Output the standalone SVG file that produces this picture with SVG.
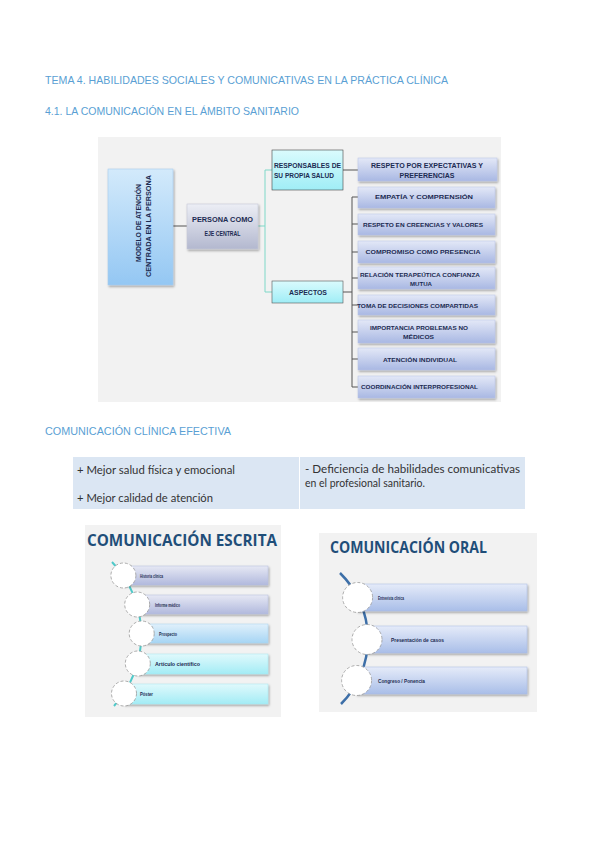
<svg xmlns="http://www.w3.org/2000/svg" width="600" height="848" viewBox="0 0 600 848">
<style>
.hdr{font-family:"Liberation Sans",Arial,sans-serif;font-size:11px;fill:#5a9fd4}
.bx{font-family:"Liberation Sans",Arial,sans-serif;font-weight:bold;fill:#1c2b52}
.t8{font-size:7.5px}
.t6{font-size:6px}
.tbl{font-family:"Lato","Liberation Sans",sans-serif;font-size:11px;fill:#333}
.ttl{font-family:"Open Sans","Liberation Sans",sans-serif;font-weight:bold;fill:#1f4e79}
.sm{font-family:"Liberation Sans",Arial,sans-serif;font-weight:bold;font-size:4.8px;fill:#1c2b52}
.ln{stroke:#555;stroke-width:1;fill:none}
.tl{stroke:#7fd8c8;stroke-width:1;fill:none}
.circ{fill:#fff;stroke:#999;stroke-width:0.8;stroke-dasharray:3 2}
</style>
<defs>
<linearGradient id="gBlue" x1="0" y1="0" x2="0" y2="1"><stop offset="0" stop-color="#d3eafb"/><stop offset="1" stop-color="#94c7f3"/></linearGradient>
<linearGradient id="gGray" x1="0" y1="0" x2="0" y2="1"><stop offset="0" stop-color="#eceef5"/><stop offset="1" stop-color="#b3b8cf"/></linearGradient>
<linearGradient id="gCyan" x1="0" y1="0" x2="0" y2="1"><stop offset="0" stop-color="#dafbfd"/><stop offset="1" stop-color="#9fedf6"/></linearGradient>
<linearGradient id="gLav" x1="0" y1="0" x2="0" y2="1"><stop offset="0" stop-color="#e3e8f7"/><stop offset="1" stop-color="#a9b8e3"/></linearGradient>
<linearGradient id="gLav2" x1="0" y1="0" x2="0" y2="1"><stop offset="0" stop-color="#e6e8f4"/><stop offset="1" stop-color="#b1b9dd"/></linearGradient>
<linearGradient id="gLblue" x1="0" y1="0" x2="0" y2="1"><stop offset="0" stop-color="#e0f0fb"/><stop offset="1" stop-color="#a6d5f4"/></linearGradient>
<linearGradient id="gLcyan" x1="0" y1="0" x2="0" y2="1"><stop offset="0" stop-color="#e0f9fc"/><stop offset="1" stop-color="#a3ecf5"/></linearGradient>
<linearGradient id="gOral" x1="0" y1="0" x2="0" y2="1"><stop offset="0" stop-color="#e5ebf9"/><stop offset="1" stop-color="#a9bee8"/></linearGradient>
<filter id="sh" x="-10%" y="-20%" width="130%" height="160%"><feDropShadow dx="1" dy="1.5" stdDeviation="0.8" flood-color="#000" flood-opacity="0.35"/></filter>
</defs>
<rect width="600" height="848" fill="#fff"/>

<text class="hdr" x="45" y="84" textLength="403" lengthAdjust="spacingAndGlyphs">TEMA 4. HABILIDADES SOCIALES Y COMUNICATIVAS EN LA PRÁCTICA CLÍNICA</text>
<text class="hdr" x="45" y="115" textLength="254" lengthAdjust="spacingAndGlyphs">4.1. LA COMUNICACIÓN EN EL ÁMBITO SANITARIO</text>

<rect x="98" y="137" width="403" height="265" fill="#f2f2f2"/>
<rect x="85" y="525" width="196" height="192" fill="#f2f2f2"/>
<rect x="319" y="533" width="218" height="179" fill="#f2f2f2"/>

<g id="connectors">
<path class="ln" d="M173 226 H187"/>
<path class="tl" d="M258 226 H265 M265 170 V292 M265 170 H272 M265 292 H272"/>
<path class="ln" d="M343 170 H358"/>
<path class="ln" d="M343 292 H352 M352 197 V387 M352 197 H358 M352 224 H358 M352 252 H358 M352 278 H358 M352 305 H358 M352 332 H358 M352 359 H358 M352 387 H358"/>
<path d="M112 562 A105.7 105.7 0 0 1 114 706" fill="none" stroke="#4fc9c9" stroke-width="2"/>
<path d="M340 573 A92 92 0 0 1 341 704" fill="none" stroke="#3d6fa8" stroke-width="2.5"/>
</g>

<g id="modelo">
<rect x="108" y="169" width="65" height="116" fill="url(#gBlue)" stroke="#a9cdef" stroke-width="0.6" filter="url(#sh)"/>
<text class="bx t8" transform="translate(141,223) rotate(-90)" text-anchor="middle" textLength="78" lengthAdjust="spacingAndGlyphs">MODELO DE ATENCIÓN</text>
<text class="bx t8" transform="translate(151,226) rotate(-90)" text-anchor="middle" textLength="102" lengthAdjust="spacingAndGlyphs">CENTRADA EN LA PERSONA</text>
</g>

<g id="persona">
<rect x="187" y="204" width="71" height="45" fill="url(#gGray)" stroke="#c5c8d8" stroke-width="0.6" filter="url(#sh)"/>
<text class="bx t8" x="222.5" y="222" text-anchor="middle" textLength="61" lengthAdjust="spacingAndGlyphs">PERSONA COMO</text>
<text class="bx t8" x="222.5" y="236" text-anchor="middle" textLength="36" lengthAdjust="spacingAndGlyphs">EJE CENTRAL</text>
</g>

<g id="responsables">
<rect x="272" y="150" width="71" height="40" fill="url(#gCyan)" stroke="#444" stroke-width="0.6"/>
<text class="bx t8" x="274" y="168" textLength="67" lengthAdjust="spacingAndGlyphs">RESPONSABLES DE</text>
<text class="bx t8" x="274" y="178" textLength="60" lengthAdjust="spacingAndGlyphs">SU PROPIA SALUD</text>
</g>

<g id="respeto">
<rect x="358" y="158" width="139" height="23" fill="url(#gLav)" stroke="#b9c3e6" stroke-width="0.5" filter="url(#sh)"/>
<text class="bx t8" x="427" y="168" text-anchor="middle" textLength="112" lengthAdjust="spacingAndGlyphs">RESPETO POR EXPECTATIVAS Y</text>
<text class="bx t8" x="427" y="178" text-anchor="middle" textLength="55" lengthAdjust="spacingAndGlyphs">PREFERENCIAS</text>
</g>

<g id="aspectos">
<rect x="272" y="281" width="71" height="22" fill="url(#gCyan)" stroke="#555" stroke-width="0.6"/>
<text class="bx t8" x="308" y="295" text-anchor="middle" textLength="38" lengthAdjust="spacingAndGlyphs">ASPECTOS</text>
</g>

<g id="empatia">
<rect x="358" y="187" width="137" height="21" fill="url(#gLav)" stroke="#b9c3e6" stroke-width="0.5" filter="url(#sh)"/>
<text class="bx t6" x="424" y="199" text-anchor="middle" textLength="98" lengthAdjust="spacingAndGlyphs">EMPATÍA Y COMPRENSIÓN</text>
</g>
<g id="creencias">
<rect x="358" y="214" width="137" height="21" fill="url(#gLav)" stroke="#b9c3e6" stroke-width="0.5" filter="url(#sh)"/>
<text class="bx t6" x="423" y="227" text-anchor="middle" textLength="120" lengthAdjust="spacingAndGlyphs">RESPETO EN CREENCIAS Y VALORES</text>
</g>
<g id="compromiso">
<rect x="358" y="241" width="137" height="22" fill="url(#gLav)" stroke="#b9c3e6" stroke-width="0.5" filter="url(#sh)"/>
<text class="bx t6" x="423" y="254" text-anchor="middle" textLength="115" lengthAdjust="spacingAndGlyphs">COMPROMISO COMO PRESENCIA</text>
</g>
<g id="relacion">
<rect x="358" y="267" width="137" height="22" fill="url(#gLav)" stroke="#b9c3e6" stroke-width="0.5" filter="url(#sh)"/>
<text class="bx t6" x="420" y="277" text-anchor="middle" textLength="120" lengthAdjust="spacingAndGlyphs">RELACIÓN TERAPEÚTICA  CONFIANZA</text>
<text class="bx t6" x="421" y="286" text-anchor="middle" textLength="22" lengthAdjust="spacingAndGlyphs">MUTUA</text>
</g>
<g id="decisiones">
<rect x="358" y="295" width="137" height="20" fill="url(#gLav)" stroke="#b9c3e6" stroke-width="0.5" filter="url(#sh)"/>
<text class="bx t6" x="417.5" y="308" text-anchor="middle" textLength="121" lengthAdjust="spacingAndGlyphs">TOMA DE DECISIONES COMPARTIDAS</text>
</g>
<g id="importancia">
<rect x="358" y="320" width="137" height="23" fill="url(#gLav)" stroke="#b9c3e6" stroke-width="0.5" filter="url(#sh)"/>
<text class="bx t6" x="419" y="330" text-anchor="middle" textLength="98" lengthAdjust="spacingAndGlyphs">IMPORTANCIA PROBLEMAS NO</text>
<text class="bx t6" x="418.5" y="339" text-anchor="middle" textLength="31" lengthAdjust="spacingAndGlyphs">MÉDICOS</text>
</g>
<g id="individual">
<rect x="358" y="348" width="137" height="22" fill="url(#gLav)" stroke="#b9c3e6" stroke-width="0.5" filter="url(#sh)"/>
<text class="bx t6" x="420" y="362" text-anchor="middle" textLength="74" lengthAdjust="spacingAndGlyphs">ATENCIÓN INDIVIDUAL</text>
</g>
<g id="coordinacion">
<rect x="358" y="376" width="137" height="22" fill="url(#gLav)" stroke="#b9c3e6" stroke-width="0.5" filter="url(#sh)"/>
<text class="bx t6" x="419.5" y="389" text-anchor="middle" textLength="117" lengthAdjust="spacingAndGlyphs">COORDINACIÓN INTERPROFESIONAL</text>
</g>

<text class="hdr" x="45" y="435" textLength="186" lengthAdjust="spacingAndGlyphs">COMUNICACIÓN CLÍNICA EFECTIVA</text>

<g id="tabla">
<rect x="73" y="457" width="226" height="52" fill="#dbe6f3"/>
<rect x="300" y="457" width="225" height="52" fill="#dbe6f3"/>
<text class="tbl" x="77" y="474" textLength="158" lengthAdjust="spacingAndGlyphs">+ Mejor salud física y emocional</text>
<text class="tbl" x="77" y="502" textLength="136" lengthAdjust="spacingAndGlyphs">+ Mejor calidad de atención</text>
<text class="tbl" x="305" y="473" textLength="215" lengthAdjust="spacingAndGlyphs">- Deficiencia de habilidades comunicativas</text>
<text class="tbl" x="305" y="487" textLength="120" lengthAdjust="spacingAndGlyphs">en el profesional sanitario.</text>
</g>

<g id="escrita-titulo">
<text class="ttl" x="87" y="546" font-size="15.5" textLength="190" lengthAdjust="spacingAndGlyphs">COMUNICACIÓN ESCRITA</text>
</g>
<g id="historia">
<rect x="123" y="566" width="145" height="19" fill="url(#gLav2)" stroke="#b5bcdc" stroke-width="0.5" filter="url(#sh)"/>
<circle class="circ" cx="123.4" cy="575.5" r="12.5"/>
<text class="sm" x="140" y="577.5" textLength="23" lengthAdjust="spacingAndGlyphs">Historia clínica</text>
</g>
<g id="informe">
<rect x="137" y="595" width="131" height="19" fill="url(#gLav2)" stroke="#b5bcdc" stroke-width="0.5" filter="url(#sh)"/>
<circle class="circ" cx="137.2" cy="604.5" r="12.5"/>
<text class="sm" x="155" y="606.5" textLength="25" lengthAdjust="spacingAndGlyphs">Informe médico</text>
</g>
<g id="prospecto">
<rect x="141" y="624" width="127" height="19" fill="url(#gLblue)" stroke="#a9d2ee" stroke-width="0.5" filter="url(#sh)"/>
<circle class="circ" cx="141.7" cy="633.5" r="12.5"/>
<text class="sm" x="159" y="635.5" textLength="18" lengthAdjust="spacingAndGlyphs">Prospecto</text>
</g>
<g id="articulo">
<rect x="137" y="654" width="131" height="20" fill="url(#gLcyan)" stroke="#a6e6ee" stroke-width="0.5" filter="url(#sh)"/>
<circle class="circ" cx="137.8" cy="663.5" r="12.5"/>
<text class="sm" x="155" y="665.5" textLength="45" lengthAdjust="spacingAndGlyphs">Artículo científico</text>
</g>
<g id="poster">
<rect x="124" y="684" width="144" height="20" fill="url(#gLcyan)" stroke="#a6e6ee" stroke-width="0.5" filter="url(#sh)"/>
<circle class="circ" cx="124" cy="693.5" r="12.5"/>
<text class="sm" x="140" y="695.5" textLength="13" lengthAdjust="spacingAndGlyphs">Póster</text>
</g>

<g id="oral-titulo">
<text class="ttl" x="330" y="553" font-size="15.5" textLength="157" lengthAdjust="spacingAndGlyphs">COMUNICACIÓN ORAL</text>
</g>
<g id="entrevista">
<rect x="357" y="584" width="170" height="27" fill="url(#gOral)" stroke="#a9bbe3" stroke-width="0.5" filter="url(#sh)"/>
<circle class="circ" cx="357.6" cy="597.5" r="15"/>
<text class="sm" x="378" y="599.5" textLength="26" lengthAdjust="spacingAndGlyphs">Entrevista clínica</text>
</g>
<g id="presentacion">
<rect x="367" y="626" width="160" height="27" fill="url(#gOral)" stroke="#a9bbe3" stroke-width="0.5" filter="url(#sh)"/>
<circle class="circ" cx="367" cy="639.5" r="15"/>
<text class="sm" x="391" y="641.5" textLength="53" lengthAdjust="spacingAndGlyphs">Presentación de casos</text>
</g>
<g id="congreso">
<rect x="356" y="667" width="171" height="27" fill="url(#gOral)" stroke="#a9bbe3" stroke-width="0.5" filter="url(#sh)"/>
<circle class="circ" cx="356.6" cy="680.5" r="15"/>
<text class="sm" x="378" y="682.5" textLength="47" lengthAdjust="spacingAndGlyphs">Congreso / Ponencia</text>
</g>
</svg>
